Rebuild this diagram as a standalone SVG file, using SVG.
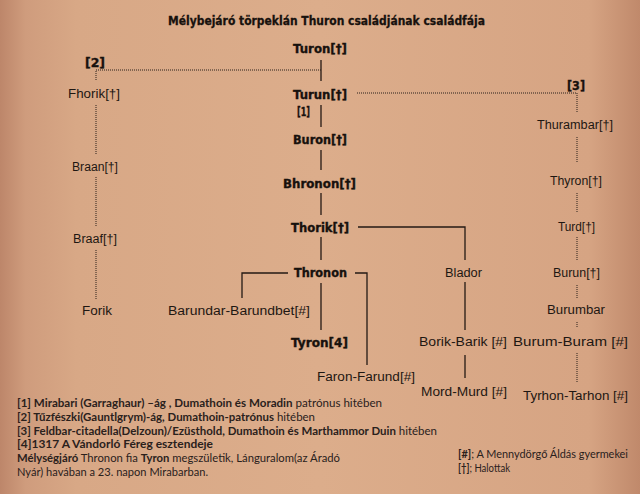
<svg xmlns="http://www.w3.org/2000/svg" width="640" height="494" viewBox="0 0 640 494">
<defs>
<linearGradient id="bg" x1="0" y1="0" x2="1" y2="0">
<stop offset="0" stop-color="#bd866a"/>
<stop offset="0.04" stop-color="#cf9c7d"/>
<stop offset="0.12" stop-color="#d8a886"/>
<stop offset="0.5" stop-color="#dcad8b"/>
<stop offset="0.92" stop-color="#d6a483"/>
<stop offset="1" stop-color="#c0896b"/>
</linearGradient>
<style>
.b{font-family:"DejaVu Sans",sans-serif;font-weight:bold;font-size:11.5px;fill:#17110d;stroke:#17110d;stroke-width:0.35;text-anchor:middle}
.r{font-family:"Liberation Sans",sans-serif;font-size:12.5px;fill:#1e1712;text-anchor:middle}
.t{font-family:"DejaVu Sans",sans-serif;font-weight:bold;font-size:12.5px;fill:#17110d;stroke:#17110d;stroke-width:0.3;text-anchor:middle}
.n{font-family:Lato,"Open Sans",sans-serif;font-size:10.5px;fill:#2a211c}
.n .k{font-weight:bold}
.s{stroke:#241a14;stroke-width:1.3;fill:none}
.d{stroke:#2a201a;stroke-width:1;fill:none;stroke-dasharray:1 1}
</style>
</defs>
<rect width="640" height="494" fill="url(#bg)"/>
<text class="t" x="326.5" y="25" textLength="317" lengthAdjust="spacingAndGlyphs">Mélybejáró törpeklán Thuron családjának családfája</text>

<g id="connectors">
<path class="s" d="M321 60V81"/>
<path class="s" d="M321 105V127"/>
<path class="s" d="M321 150V170"/>
<path class="s" d="M321 193V215"/>
<path class="s" d="M321 237V260"/>
<path class="s" d="M321 283V330"/>
<path class="s" d="M358 227H465V260"/>
<path class="s" d="M288 273H242V298"/>
<path class="s" d="M355 273H367V365"/>
<path class="s" d="M465 282V330"/>
<path class="s" d="M465 355V378"/>
<path class="d" d="M321 70H96V80"/>
<path class="d" d="M96 105V155"/>
<path class="d" d="M96 177V227"/>
<path class="d" d="M96 250V300"/>
<path class="d" d="M357 93H577V112"/>
<path class="d" d="M577 137V163"/>
<path class="d" d="M577 193V213"/>
<path class="d" d="M577 237V260"/>
<path class="d" d="M577 285V298"/>
<path class="d" d="M577 322V328"/>
<path class="d" d="M577 353V382"/>
</g>

<g id="turon"><text class="b" x="320" y="53" textLength="54" lengthAdjust="spacingAndGlyphs">Turon[†]</text></g>
<g id="turun"><text class="b" x="320" y="99" textLength="54" lengthAdjust="spacingAndGlyphs">Turun[†]</text></g>
<g id="label1"><text class="b" x="303.5" y="116" textLength="13" lengthAdjust="spacingAndGlyphs">[1]</text></g>
<g id="buron"><text class="b" x="320" y="144" textLength="54" lengthAdjust="spacingAndGlyphs">Buron[†]</text></g>
<g id="bhronon"><text class="b" x="319.5" y="188" textLength="73" lengthAdjust="spacingAndGlyphs">Bhronon[†]</text></g>
<g id="thorik"><text class="b" x="320" y="232" textLength="58" lengthAdjust="spacingAndGlyphs">Thorik[†]</text></g>
<g id="thronon"><text class="b" x="320.5" y="277" textLength="53" lengthAdjust="spacingAndGlyphs">Thronon</text></g>
<g id="tyron"><text class="b" x="319.5" y="347" textLength="57" lengthAdjust="spacingAndGlyphs">Tyron[4]</text></g>
<g id="label2"><text class="b" x="95" y="67" textLength="20" lengthAdjust="spacingAndGlyphs">[2]</text></g>
<g id="label3"><text class="b" x="576" y="90" textLength="18" lengthAdjust="spacingAndGlyphs">[3]</text></g>

<g id="fhorik"><text class="r" x="94" y="98" textLength="52" lengthAdjust="spacingAndGlyphs">Fhorik[†]</text></g>
<g id="braan"><text class="r" x="95" y="171" textLength="46" lengthAdjust="spacingAndGlyphs">Braan[†]</text></g>
<g id="braaf"><text class="r" x="95" y="243" textLength="44" lengthAdjust="spacingAndGlyphs">Braaf[†]</text></g>
<g id="forik"><text class="r" x="97" y="315" textLength="30" lengthAdjust="spacingAndGlyphs">Forik</text></g>
<g id="barundar"><text class="r" x="239" y="315" textLength="142" lengthAdjust="spacingAndGlyphs">Barundar-Barundbet[#]</text></g>
<g id="faron"><text class="r" x="366" y="381" textLength="98" lengthAdjust="spacingAndGlyphs">Faron-Farund[#]</text></g>
<g id="blador"><text class="r" x="463.5" y="277" textLength="37" lengthAdjust="spacingAndGlyphs">Blador</text></g>
<g id="borik"><text class="r" x="463" y="346" textLength="88" lengthAdjust="spacingAndGlyphs">Borik-Barik [#]</text></g>
<g id="mord"><text class="r" x="464" y="396" textLength="86" lengthAdjust="spacingAndGlyphs">Mord-Murd [#]</text></g>
<g id="thurambar"><text class="r" x="575" y="129" textLength="76" lengthAdjust="spacingAndGlyphs">Thurambar[†]</text></g>
<g id="thyron"><text class="r" x="576" y="185" textLength="52" lengthAdjust="spacingAndGlyphs">Thyron[†]</text></g>
<g id="turd"><text class="r" x="576.5" y="231" textLength="37" lengthAdjust="spacingAndGlyphs">Turd[†]</text></g>
<g id="burun"><text class="r" x="576.5" y="277" textLength="47" lengthAdjust="spacingAndGlyphs">Burun[†]</text></g>
<g id="burumbar"><text class="r" x="576" y="314" textLength="58" lengthAdjust="spacingAndGlyphs">Burumbar</text></g>
<g id="burum"><text class="r" x="570.5" y="346" textLength="115" lengthAdjust="spacingAndGlyphs">Burum-Buram [#]</text></g>
<g id="tyrhon"><text class="r" x="575.5" y="400" textLength="105" lengthAdjust="spacingAndGlyphs">Tyrhon-Tarhon [#]</text></g>

<g id="notes">
<text class="n" x="17" y="407" textLength="365" lengthAdjust="spacingAndGlyphs"><tspan class="k">[1] Mirabari (Garraghaur) –ág , Dumathoin és Moradin</tspan> patrónus hitében</text>
<text class="n" x="17" y="421" textLength="298" lengthAdjust="spacingAndGlyphs"><tspan class="k">[2] Tűzfészki(Gauntlgrym)-ág, Dumathoin-patrónus</tspan> hitében</text>
<text class="n" x="17" y="435" textLength="420" lengthAdjust="spacingAndGlyphs"><tspan class="k">[3] Feldbar-citadella(Delzoun)/Ezüsthold, Dumathoin és Marthammor Duin</tspan> hitében</text>
<text class="n" x="17" y="448" textLength="196" lengthAdjust="spacingAndGlyphs"><tspan class="k">[4]1317 A Vándorló Féreg esztendeje</tspan></text>
<text class="n" x="17" y="462" textLength="323" lengthAdjust="spacingAndGlyphs"><tspan class="k">Mélységjáró</tspan> Thronon fia <tspan class="k">Tyron</tspan> megszületik, Lánguralom(az Áradó</text>
<text class="n" x="17" y="476" textLength="191" lengthAdjust="spacingAndGlyphs">Nyár) havában a 23. napon Mirabarban.</text>
<text class="n" x="458" y="458" textLength="170" lengthAdjust="spacingAndGlyphs"><tspan class="k">[#]</tspan>; A Mennydörgő Áldás gyermekei</text>
<text class="n" x="458" y="472" textLength="52" lengthAdjust="spacingAndGlyphs"><tspan class="k">[†]</tspan>; Halottak</text>
</g>
</svg>
